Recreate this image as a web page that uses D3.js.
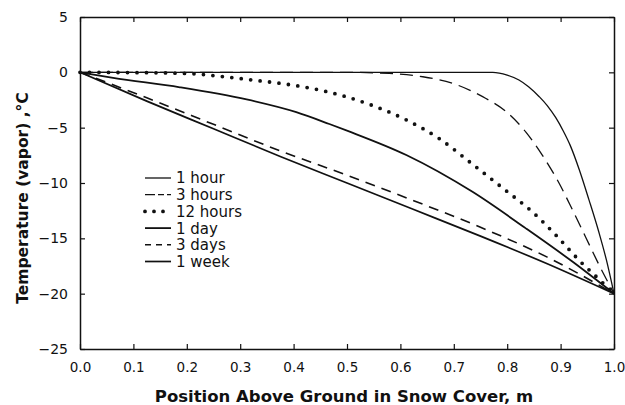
<!DOCTYPE html>
<html>
<head>
<meta charset="utf-8">
<script src="https://cdn.jsdelivr.net/npm/d3@7"></script>
<style>
  body { margin: 0; background: #fff; }
  text { font-family: "DejaVu Sans", sans-serif; fill: #111; }
</style>
</head>
<body>
<div id="chart"></div>
<script>
// Frame and plot margins
const FRAME_WIDTH = 625;
const FRAME_HEIGHT = 405;
const MARGINS = {left: 80, right: 11, top: 17, bottom: 56};

const VIS_WIDTH = FRAME_WIDTH - MARGINS.left - MARGINS.right;
const VIS_HEIGHT = FRAME_HEIGHT - MARGINS.top - MARGINS.bottom;

// Tick values
const xTicks = [0, 0.1, 0.2, 0.3, 0.4, 0.5, 0.6, 0.7, 0.8, 0.9, 1.0];
const yTicks = [-25, -20, -15, -10, -5, 0, 5];

// Series labels (legend order)
const seriesNames = ["1 hour", "3 hours", "12 hours", "1 day", "3 days", "1 week"];

// Temperature profiles: [position (m), temperature (C)]
const hour1 = [[0, 0], [0.5, 0], [0.773, 0], [0.80, -0.25], [0.822, -0.69], [0.84, -1.3],
  [0.86, -2.2], [0.875, -3.0], [0.891, -4.1], [0.905, -5.3], [0.918, -6.6], [0.935, -8.8],
  [0.953, -11.5], [0.972, -14.5], [0.986, -17.0], [1.0, -20]];
const hours3 = [[0, 0], [0.5, 0], [0.579, -0.1], [0.642, -0.4], [0.704, -1.1], [0.754, -2.2],
  [0.798, -3.55], [0.835, -5.4], [0.866, -7.5], [0.897, -10.0], [0.922, -12.4],
  [0.947, -14.9], [0.972, -17.4], [1.0, -20]];
const hours12 = [[0, 0], [0.15, -0.05], [0.218, -0.15], [0.262, -0.36], [0.324, -0.7],
  [0.386, -1.07], [0.449, -1.6], [0.498, -2.2], [0.548, -3.0], [0.611, -4.3],
  [0.673, -6.0], [0.735, -8.3], [0.798, -10.7], [0.847, -12.6], [0.891, -14.7],
  [0.935, -17.0], [0.972, -18.7], [1.0, -20]];
const day1 = [[0, 0], [0.062, -0.5], [0.187, -1.35], [0.312, -2.45], [0.405, -3.6],
  [0.467, -4.67], [0.505, -5.36], [0.611, -7.47], [0.735, -10.8], [0.835, -14.1],
  [0.922, -17.1], [1.0, -20]];
const days3 = [[0, 0], [0.125, -2.3], [0.25, -4.7], [0.375, -7.1], [0.5, -9.3],
  [0.625, -11.6], [0.75, -14.0], [0.875, -16.7], [1.0, -20]];
const week1 = [[0, 0], [0.125, -2.6], [0.25, -5.1], [0.375, -7.6], [0.5, -10.0],
  [0.625, -12.4], [0.75, -14.8], [0.875, -17.3], [1.0, -20]];

const seriesData = [hour1, hours3, hours12, day1, days3, week1];

// Line styles per series
const styles = [
  {width: 1.3, dash: null, cap: "butt"},
  {width: 1.3, dash: "13,7", cap: "butt"},
  {width: 3.8, dash: "0,9.5", cap: "round"},
  {width: 1.8, dash: null, cap: "butt"},
  {width: 1.6, dash: "10,7", cap: "butt"},
  {width: 1.7, dash: null, cap: "butt"}
];

const FRAME = d3.select("#chart")
  .append("svg")
    .attr("width", FRAME_WIDTH)
    .attr("height", FRAME_HEIGHT);

const X_SCALE = d3.scaleLinear().domain([0, 1]).range([0, VIS_WIDTH]);
const Y_SCALE = d3.scaleLinear().domain([-25, 5]).range([VIS_HEIGHT, 0]);

const plot = FRAME.append("g")
  .attr("transform", "translate(" + MARGINS.left + "," + MARGINS.top + ")");

const fmtY = (d) => d < 0 ? "\u2212" + Math.abs(d) : String(d);

// Axes, ticks pointing inward
plot.append("g")
  .attr("transform", "translate(0," + VIS_HEIGHT + ")")
  .call(d3.axisBottom(X_SCALE).tickValues(xTicks).tickFormat(d3.format(".1f"))
    .tickSizeInner(-5).tickSizeOuter(0).tickPadding(13))
  .attr("font-size", "13.5px");

plot.append("g")
  .call(d3.axisTop(X_SCALE).tickValues(xTicks).tickFormat("")
    .tickSizeInner(-5).tickSizeOuter(0));

plot.append("g")
  .call(d3.axisLeft(Y_SCALE).tickValues(yTicks).tickFormat(fmtY)
    .tickSizeInner(-5).tickSizeOuter(0).tickPadding(12))
  .attr("font-size", "14px");

plot.append("g")
  .attr("transform", "translate(" + VIS_WIDTH + ",0)")
  .call(d3.axisRight(Y_SCALE).tickValues(yTicks).tickFormat("")
    .tickSizeInner(-5).tickSizeOuter(0));

plot.selectAll(".domain").attr("stroke", "#111").attr("stroke-width", 1.5);
plot.selectAll(".tick line").attr("stroke", "#111").attr("stroke-width", 1.2);
plot.selectAll(".tick text").attr("font-family", "DejaVu Sans").attr("fill", "#111");

// Curves
const line = d3.line()
  .x((d) => X_SCALE(d[0]))
  .y((d) => Y_SCALE(d[1]))
  .curve(d3.curveMonotoneX);

plot.selectAll(".curve")
  .data(seriesData)
  .enter()
  .append("path")
    .attr("class", "curve")
    .attr("d", line)
    .attr("fill", "none")
    .attr("stroke", "#111")
    .attr("stroke-width", (d, i) => styles[i].width)
    .attr("stroke-dasharray", (d, i) => styles[i].dash)
    .attr("stroke-linecap", (d, i) => styles[i].cap);

// Legend
const legend = FRAME.append("g").attr("transform", "translate(145,178)");
const rows = legend.selectAll(".row")
  .data(seriesNames)
  .enter()
  .append("g")
    .attr("transform", (d, i) => "translate(0," + (i * 16.7) + ")");

rows.append("line")
  .attr("x1", 0).attr("x2", 26)
  .attr("stroke", "#111")
  .attr("stroke-width", (d, i) => styles[i].width)
  .attr("stroke-dasharray", (d, i) => i === 2 ? "0,9" : (i === 1 ? "10,3,6,3" : (i === 4 ? "6,5" : null)))
  .attr("stroke-linecap", (d, i) => styles[i].cap);

rows.append("text")
  .attr("x", 31)
  .attr("dy", "0.36em")
  .attr("font-size", "15px")
  .text((d) => d);

// Axis titles
FRAME.append("text")
  .attr("x", 344)
  .attr("y", 402)
  .attr("text-anchor", "middle")
  .attr("font-size", "16.5px")
  .attr("font-weight", "bold")
  .text("Position Above Ground in Snow Cover, m");

FRAME.append("text")
  .attr("transform", "translate(28,198) rotate(-90)")
  .attr("text-anchor", "middle")
  .attr("font-size", "15.5px")
  .attr("font-weight", "bold")
  .text("Temperature (vapor) ,\u00b0C");
</script>
</body>
</html>
